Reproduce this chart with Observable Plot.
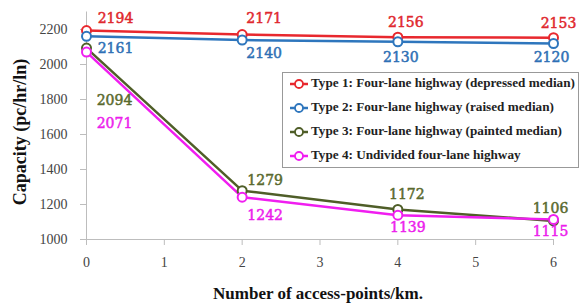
<!DOCTYPE html>
<html>
<head>
<meta charset="utf-8">
<script src="https://cdn.jsdelivr.net/npm/d3@7"></script>
<script src="https://cdn.jsdelivr.net/npm/@observablehq/plot@0.6"></script>
<style>
html,body{margin:0;padding:0;background:#fff;}
#chart{width:579px;height:303px;overflow:hidden;}
</style>
</head>
<body>
<div id="chart"></div>
<script>
// ---- data ----
const accessPoints = [0, 2, 4, 6];
const seriesNames = [
  "Type 1: Four-lane highway (depressed median)",
  "Type 2: Four-lane highway (raised median)",
  "Type 3: Four-lane highway (painted median)",
  "Type 4: Undivided four-lane highway"
];
const type1 = [2194, 2171, 2156, 2153];
const type2 = [2161, 2140, 2130, 2120];
const type3 = [2094, 1279, 1172, 1106];
const type4 = [2071, 1242, 1139, 1115];
const xTicks = [0, 1, 2, 3, 4, 5, 6];
const yTicks = [1000, 1200, 1400, 1600, 1800, 2000, 2200];

// ---- styling ----
const lineColors = ["#e8282e", "#2e76bd", "#4f5e28", "#f01ef0"];
const labelColors = ["#e0282e", "#2e70b5", "#5a6a2e", "#ec1eec"];
// label offsets (dx, dy) per series per point
const labelDx = [[29, 22, 8, 5], [29, 22, 3, -2], [28, 23, 9, -3], [28, 23, 10, -3]];
const labelDy = [[-12, -16, -15, -14], [12, 14, 16, 14], [52, -10, -15, -12], [71, 18, 12, 12]];

const allSeries = [type1, type2, type3, type4];
const rows = [];
allSeries.forEach((vals, s) => {
  vals.forEach((v, i) => rows.push({series: s, name: seriesNames[s], x: accessPoints[i], y: v, i}));
});

const serif = "'Liberation Serif', 'DejaVu Serif', serif";

const marks = [
  Plot.ruleX([0], {stroke: "#bdbdbd", strokeWidth: 1}),
  Plot.ruleY([1000], {stroke: "#bdbdbd", strokeWidth: 1}),
  Plot.axisX({ticks: xTicks, tickSize: 6, tickPadding: 12, stroke: "#bdbdbd", fill: "#444", label: null, tickFormat: d => String(d), fontSize: 14, fontFamily: serif}),
  Plot.axisY({ticks: yTicks, tickSize: 6, tickPadding: 13, stroke: "#bdbdbd", fill: "#444", label: null, tickFormat: d => String(d), fontSize: 14, fontFamily: serif})
];
allSeries.forEach((vals, s) => {
  marks.push(Plot.line(rows.filter(r => r.series === s), {x: "x", y: "y", stroke: lineColors[s], strokeWidth: 2.5}));
});
allSeries.forEach((vals, s) => {
  marks.push(Plot.dot(rows.filter(r => r.series === s), {x: "x", y: "y", r: 4.5, stroke: lineColors[s], strokeWidth: 2, fill: "white"}));
});
rows.forEach(r => {
  marks.push(Plot.text([r], {
    x: "x", y: "y", text: d => String(d.y),
    dx: labelDx[r.series][r.i], dy: labelDy[r.series][r.i],
    fill: labelColors[r.series], stroke: labelColors[r.series], strokeWidth: 0.5,
    fontSize: 14, fontFamily: "'DejaVu Serif', serif",
    textAnchor: "middle", letterSpacing: "0.8px"
  }));
});

const chart = Plot.plot({
  width: 579,
  height: 303,
  marginLeft: 86,
  marginRight: 26,
  marginTop: 11.5,
  marginBottom: 64,
  x: {domain: [0, 6]},
  y: {domain: [1000, 2300]},
  style: {fontFamily: serif, fontSize: "14px", background: "white", overflow: "visible"},
  marks
});
document.getElementById("chart").appendChild(chart);

// ---- titles and legend ----
const svg = d3.select(chart);
svg.append("text")
  .attr("transform", "translate(22,132) rotate(-90)")
  .attr("text-anchor", "middle")
  .attr("dominant-baseline", "middle")
  .attr("font-family", serif).attr("font-weight", "bold").attr("font-size", 18)
  .attr("fill", "#111")
  .text("Capacity (pc/hr/ln)");
svg.append("text")
  .attr("x", 318).attr("y", 299)
  .attr("text-anchor", "middle")
  .attr("font-family", serif).attr("font-weight", "bold").attr("font-size", 17)
  .attr("fill", "#111")
  .text("Number of access-points/km.");

const lg = svg.append("g").attr("text-anchor", "start");
lg.append("rect").attr("x", 282.5).attr("y", 72.5).attr("width", 296).attr("height", 95)
  .attr("fill", "white").attr("stroke", "#999").attr("stroke-width", 1);
seriesNames.forEach((name, s) => {
  const y = 84 + s * 24;
  lg.append("line").attr("x1", 290).attr("x2", 308).attr("y1", y).attr("y2", y)
    .attr("stroke", lineColors[s]).attr("stroke-width", 2.5);
  lg.append("circle").attr("cx", 299).attr("cy", y).attr("r", 4)
    .attr("fill", "white").attr("stroke", lineColors[s]).attr("stroke-width", 1.8);
  lg.append("text").attr("x", 311).attr("y", y).attr("dominant-baseline", "middle")
    .attr("text-anchor", "start")
    .attr("font-family", serif).attr("font-weight", "bold").attr("font-size", 13.2)
    .attr("fill", "#222").text(name);
});
</script>
</body>
</html>
